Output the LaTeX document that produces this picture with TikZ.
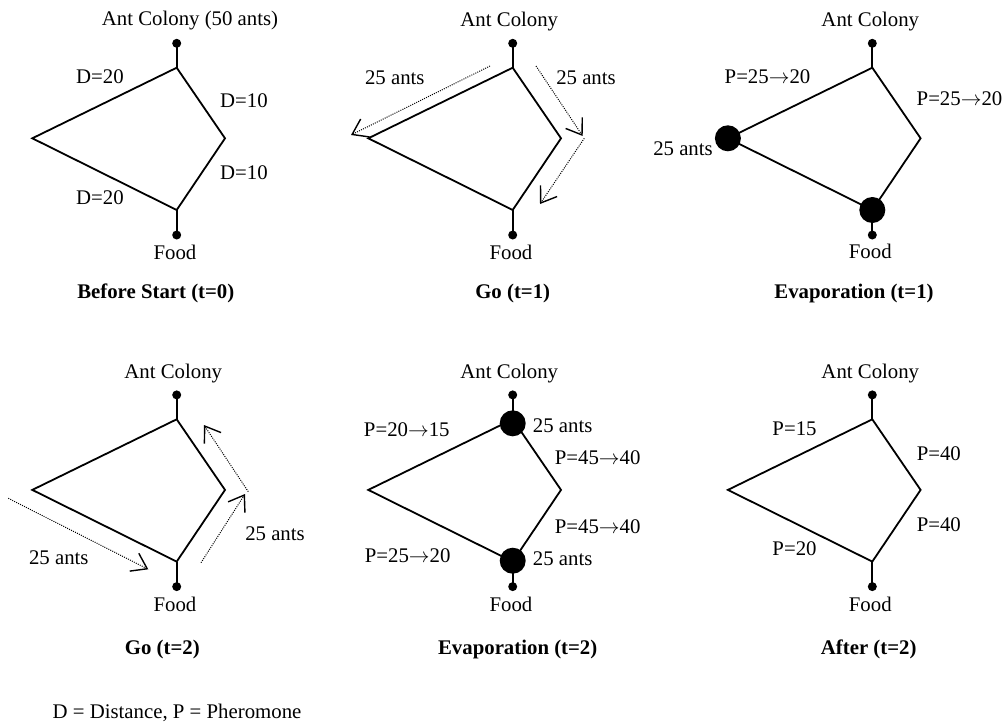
\documentclass[tikz,border=0pt]{standalone}
\usepackage{fontspec}
\setmainfont{Liberation Serif}
\usetikzlibrary{arrows.meta}

% One ant graph: colony dot, four-edge loop, food dot.
% #1 name prefix, #2/#3 position of the upper junction.
\newcommand{\antgraph}[3]{%
  \begin{scope}[shift={(#2,#3)}]
    \node[dot] (#1c) at (0,-24.4) {};
    \coordinate (#1t) at (0,0);
    \coordinate (#1l) at (-144.4,70.6);
    \coordinate (#1r) at (48.3,70.6);
    \coordinate (#1b) at (0,142.3);
    \node[dot] (#1f) at (0,167.3) {};
  \end{scope}
  \draw[edge] (#1c.center) -- (#1t);
  \draw[edge] (#1t) -- (#1l) -- (#1b) -- (#1r) -- cycle;
  \draw[edge] (#1b) -- (#1f.center);
}
% pheromone update arrow
\newcommand{\upd}{$\rightarrow$}

\begin{document}
\begin{tikzpicture}[x=1pt,y=-1pt,
  every node/.style={font=\fontsize{20.8}{24}\selectfont, inner sep=0pt},
  lbl/.style={anchor=base},
  caption/.style={anchor=base, font=\fontsize{20.8}{24}\selectfont\bfseries},
  edge/.style={line width=1.8pt, line join=miter},
  dot/.style={circle, fill=black, minimum size=9pt, inner sep=0pt},
  bigdot/.style={circle, fill=black, minimum size=26pt, inner sep=0pt},
  trail/.style={line width=1pt, dash pattern=on 1pt off 1.2pt,
    -{Straight Barb[length=14.5pt,width=20pt,line width=1.4pt]}}
]
\useasboundingbox (0,0) rectangle (1008,726);

% ---------- Before Start (t=0) ----------
\antgraph{a}{176.7}{67.7}
\node[lbl] (acol) at (190,25.7) {Ant Colony (50 ants)};
\node[lbl] (ad1) at (100,83.3) {D=20};
\node[lbl] (ad2) at (244,107.7) {D=10};
\node[lbl] (ad3) at (244,179.3) {D=10};
\node[lbl] (ad4) at (100,204.3) {D=20};
\node[lbl] (afood) at (175,259.3) {Food};
\node[caption] (atitle) at (155.8,298.3) {Before Start (t=0)};

% ---------- Go (t=1) ----------
\antgraph{b}{512.7}{67.7}
\node[lbl] (bcol) at (509.3,26) {Ant Colony};
\node[lbl] (bants1) at (394.8,84) {25 ants};
\node[lbl] (bants2) at (586,84) {25 ants};
\node[lbl] (bfood) at (511,259.3) {Food};
\node[caption] (btitle) at (512.7,298.3) {Go (t=1)};
\coordinate (bm1s) at (490,66);    \coordinate (bm1e) at (351,135);
\coordinate (bm2s) at (536,66);    \coordinate (bm2e) at (582.7,136);
\coordinate (bm3s) at (584.3,138.3); \coordinate (bm3e) at (540,204);
\draw[trail] (bm1s) -- (bm1e);
\draw[trail] (bm2s) -- (bm2e);
\draw[trail] (bm3s) -- (bm3e);

% ---------- Evaporation (t=1) ----------
\antgraph{c}{872.3}{67.7}
\node[bigdot] (cant1) at (cl) {};
\node[bigdot] (cant2) at (cb) {};
\node[lbl] (ccol) at (870.3,26) {Ant Colony};
\node[lbl] (cp1) at (767.5,83.3) {P=25\upd20};
\node[lbl] (cp2) at (959.5,105.7) {P=25\upd20};
\node[lbl] (cants) at (683,155) {25 ants};
\node[lbl] (cfood) at (870.3,258.7) {Food};
\node[caption] (ctitle) at (854,298.3) {Evaporation (t=1)};

% ---------- Go (t=2) ----------
\antgraph{d}{176.7}{419.3}
\node[lbl] (dcol) at (173.3,378.3) {Ant Colony};
\node[lbl] (dants1) at (58.8,564) {25 ants};
\node[lbl] (dants2) at (275,540) {25 ants};
\node[lbl] (dfood) at (175,611.7) {Food};
\node[caption] (dtitle) at (162.3,654) {Go (t=2)};
\coordinate (dm1s) at (8.3,498.3);   \coordinate (dm1e) at (148.3,569.3);
\coordinate (dm2s) at (201,562.7);   \coordinate (dm2e) at (245,494);
\coordinate (dm3s) at (248.3,491.7); \coordinate (dm3e) at (204,425);
\draw[trail] (dm1s) -- (dm1e);
\draw[trail] (dm2s) -- (dm2e);
\draw[trail] (dm3s) -- (dm3e);

% ---------- Evaporation (t=2) ----------
\antgraph{e}{512.7}{419.3}
\node[bigdot] (eant1) at (512.7,423.3) {};
\node[bigdot] (eant2) at (512.7,560.7) {};
\node[lbl] (ecol) at (509.3,378.3) {Ant Colony};
\node[lbl] (ep1) at (406.8,436.7) {P=20\upd15};
\node[lbl] (eants1) at (562.7,432.3) {25 ants};
\node[lbl] (ep2) at (597.7,464.3) {P=45\upd40};
\node[lbl] (ep3) at (597.7,533.3) {P=45\upd40};
\node[lbl] (ep4) at (407.7,562.7) {P=25\upd20};
\node[lbl] (eants2) at (562.7,565.7) {25 ants};
\node[lbl] (efood) at (511,611.7) {Food};
\node[caption] (etitle) at (517.7,654) {Evaporation (t=2)};

% ---------- After (t=2) ----------
\antgraph{f}{872.3}{419.3}
\node[lbl] (fcol) at (870.3,378.3) {Ant Colony};
\node[lbl] (fp1) at (794.5,435.7) {P=15};
\node[lbl] (fp2) at (938.8,460) {P=40};
\node[lbl] (fp3) at (938.8,531.7) {P=40};
\node[lbl] (fp4) at (794.5,555.7) {P=20};
\node[lbl] (ffood) at (870.3,611.7) {Food};
\node[caption] (ftitle) at (868.7,654) {After (t=2)};

% ---------- legend ----------
\node[lbl] (legend) at (177,718) {D = Distance, P = Pheromone};
\end{tikzpicture}
\end{document}
